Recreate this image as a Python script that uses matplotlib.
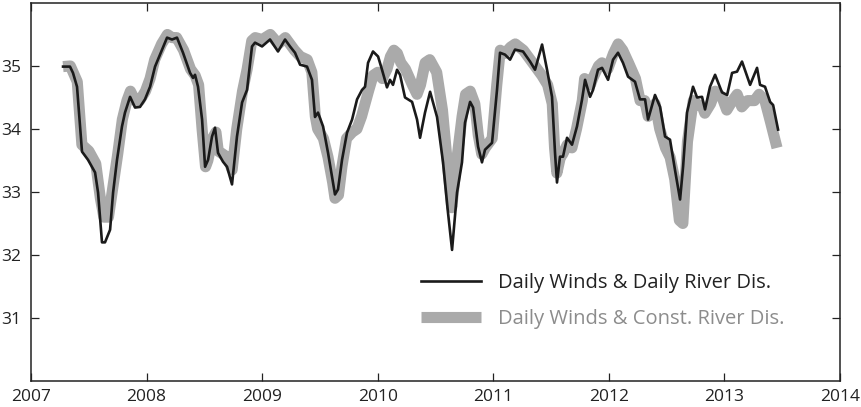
import matplotlib
matplotlib.use("Agg")
import matplotlib.pyplot as plt

plt.rcParams["font.family"] = ["Open Sans", "DejaVu Sans"]

# Daily winds & daily river discharge (black line)
t_daily = [2007.277, 2007.337, 2007.363, 2007.398, 2007.441, 2007.493, 2007.554, 2007.580,
           2007.614, 2007.640, 2007.684, 2007.710, 2007.744, 2007.787, 2007.813, 2007.857,
           2007.900, 2007.943, 2007.986, 2008.030, 2008.073, 2008.134, 2008.177, 2008.220,
           2008.263, 2008.315, 2008.376, 2008.402, 2008.419, 2008.445, 2008.480, 2008.506,
           2008.532, 2008.566, 2008.592, 2008.618, 2008.661, 2008.696, 2008.739, 2008.782,
           2008.826, 2008.869, 2008.912, 2008.938, 2008.999, 2009.068, 2009.137, 2009.198,
           2009.241, 2009.284, 2009.328, 2009.388, 2009.431, 2009.457, 2009.483, 2009.527,
           2009.570, 2009.605, 2009.630, 2009.656, 2009.691, 2009.734, 2009.778, 2009.821,
           2009.864, 2009.890, 2009.916, 2009.959, 2010.003, 2010.037, 2010.080, 2010.106,
           2010.132, 2010.167, 2010.193, 2010.236, 2010.297, 2010.340, 2010.366, 2010.409,
           2010.453, 2010.513, 2010.565, 2010.608, 2010.643, 2010.686, 2010.729, 2010.755,
           2010.799, 2010.825, 2010.868, 2010.902, 2010.928, 2010.989, 2011.032, 2011.058,
           2011.101, 2011.145, 2011.188, 2011.257, 2011.318, 2011.361, 2011.422, 2011.465,
           2011.508, 2011.534, 2011.551, 2011.577, 2011.603, 2011.638, 2011.681, 2011.724,
           2011.768, 2011.794, 2011.837, 2011.863, 2011.906, 2011.941, 2011.993, 2012.036,
           2012.079, 2012.122, 2012.166, 2012.226, 2012.269, 2012.313, 2012.339, 2012.399,
           2012.443, 2012.486, 2012.529, 2012.572, 2012.616, 2012.642, 2012.676, 2012.728,
           2012.763, 2012.806, 2012.832, 2012.875, 2012.919, 2012.979, 2013.023, 2013.066,
           2013.109, 2013.152, 2013.222, 2013.282, 2013.308, 2013.351, 2013.395, 2013.421,
           2013.464]
s_daily = [34.99, 34.99, 34.89, 34.67, 33.64, 33.51, 33.31, 32.99,
           32.20, 32.20, 32.40, 32.99, 33.51, 34.04, 34.26, 34.51,
           34.34, 34.35, 34.47, 34.67, 34.99, 35.26, 35.45, 35.42,
           35.45, 35.21, 34.89, 34.81, 34.86, 34.67, 34.15, 33.40,
           33.51, 33.88, 34.02, 33.62, 33.48, 33.40, 33.12, 33.88,
           34.42, 34.62, 35.31, 35.37, 35.31, 35.42, 35.23, 35.42,
           35.31, 35.21, 35.02, 34.99, 34.78, 34.19, 34.26, 34.04,
           33.62, 33.24, 32.96, 33.04, 33.51, 33.94, 34.15, 34.47,
           34.62, 34.67, 35.05, 35.23, 35.15, 34.94, 34.66, 34.78,
           34.70, 34.94, 34.86, 34.50, 34.43, 34.15, 33.86, 34.26,
           34.59, 34.19, 33.47, 32.67, 32.08, 32.99, 33.47, 34.10,
           34.43, 34.34, 33.72, 33.47, 33.67, 33.78, 34.62, 35.21,
           35.18, 35.10, 35.26, 35.23, 35.07, 34.94, 35.34, 34.94,
           34.51, 33.62, 33.15, 33.56, 33.56, 33.86, 33.75, 34.04,
           34.47, 34.78, 34.51, 34.62, 34.94, 34.97, 34.78, 35.10,
           35.21, 35.05, 34.83, 34.75, 34.47, 34.47, 34.15, 34.54,
           34.35, 33.88, 33.83, 33.35, 32.88, 33.40, 34.26, 34.67,
           34.50, 34.51, 34.31, 34.67, 34.86, 34.58, 34.54, 34.89,
           34.91, 35.07, 34.70, 34.97, 34.70, 34.67, 34.43, 34.38,
           33.99]

# Daily winds & constant river discharge (thick grey line)
t_const = [2007.277, 2007.34, 2007.40, 2007.44, 2007.50, 2007.56, 2007.60, 2007.63,
           2007.67, 2007.71, 2007.75, 2007.79, 2007.83, 2007.86, 2007.90, 2007.94,
           2007.99, 2008.03, 2008.07, 2008.13, 2008.18, 2008.22, 2008.26, 2008.32,
           2008.38, 2008.42, 2008.45, 2008.48, 2008.51, 2008.53, 2008.57, 2008.60,
           2008.62, 2008.66, 2008.70, 2008.74, 2008.78, 2008.83, 2008.87, 2008.91,
           2008.94, 2009.00, 2009.07, 2009.14, 2009.20, 2009.24, 2009.28, 2009.33,
           2009.39, 2009.43, 2009.46, 2009.48, 2009.53, 2009.57, 2009.61, 2009.63,
           2009.66, 2009.69, 2009.73, 2009.78, 2009.82, 2009.86, 2009.89, 2009.92,
           2009.96, 2010.00, 2010.04, 2010.08, 2010.11, 2010.14, 2010.17, 2010.20,
           2010.24, 2010.30, 2010.34, 2010.37, 2010.41, 2010.45, 2010.51, 2010.56,
           2010.60, 2010.64, 2010.69, 2010.73, 2010.76, 2010.80, 2010.84, 2010.87,
           2010.90, 2010.93, 2010.99, 2011.03, 2011.06, 2011.10, 2011.15, 2011.19,
           2011.26, 2011.32, 2011.36, 2011.42, 2011.47, 2011.51, 2011.53, 2011.55,
           2011.58, 2011.60, 2011.64, 2011.68, 2011.72, 2011.77, 2011.79, 2011.84,
           2011.86, 2011.91, 2011.94, 2011.99, 2012.04, 2012.08, 2012.12, 2012.17,
           2012.23, 2012.27, 2012.31, 2012.34, 2012.40, 2012.44, 2012.49, 2012.53,
           2012.57, 2012.61, 2012.64, 2012.68, 2012.73, 2012.76, 2012.81, 2012.83,
           2012.88, 2012.92, 2012.98, 2013.02, 2013.07, 2013.11, 2013.15, 2013.20,
           2013.26, 2013.30, 2013.35, 2013.40, 2013.455]
s_const = [34.99, 35.0, 34.75, 33.75, 33.65, 33.45, 32.9, 32.6,
           32.6, 33.1, 33.6, 34.15, 34.45, 34.6, 34.45, 34.45,
           34.6, 34.8, 35.1, 35.35, 35.5, 35.45, 35.45, 35.25,
           34.95, 34.85, 34.7, 34.0, 33.4, 33.5, 33.85, 33.95,
           33.65, 33.6, 33.55, 33.35, 34.0, 34.6, 34.95, 35.4,
           35.45, 35.42, 35.5, 35.35, 35.45, 35.35, 35.25, 35.15,
           35.1, 34.9, 34.2, 34.0, 33.85, 33.55, 33.15, 32.9,
           32.95, 33.4, 33.85, 33.95, 34.0, 34.2, 34.4, 34.6,
           34.85, 34.9, 34.8, 34.95, 35.15, 35.25, 35.2, 35.05,
           34.95, 34.7, 34.55, 34.7, 35.05, 35.1, 34.9, 34.3,
           33.5, 32.75, 33.6, 34.2, 34.55, 34.6, 34.4, 33.9,
           33.6, 33.7, 33.85, 34.7, 35.25, 35.2, 35.3, 35.35,
           35.25, 35.1, 35.0, 34.85, 34.7, 34.4, 33.7, 33.3,
           33.55, 33.6, 33.75, 33.7, 34.0, 34.45, 34.8, 34.7,
           34.8, 35.0, 35.05, 34.95, 35.2, 35.35, 35.25, 35.05,
           34.8, 34.45, 34.45, 34.2, 34.4, 34.0, 33.7, 33.55,
           33.2, 32.55, 32.5, 33.8, 34.45, 34.4, 34.35, 34.25,
           34.4, 34.6, 34.5, 34.3, 34.45, 34.55, 34.35, 34.45,
           34.45, 34.55, 34.45, 34.1, 33.7]

year_ticks = [2007, 2008, 2009, 2010, 2011, 2012, 2013, 2014]
sal_ticks = [31, 32, 33, 34, 35]

fig = plt.figure(figsize=(8.62, 4.07), dpi=100)
ax = fig.add_axes([0.036, 0.064, 0.9385, 0.9287])

ax.plot(t_const, s_const, color="#aaaaaa", lw=8, solid_capstyle="butt",
        solid_joinstyle="round", label="Daily Winds & Const. River Dis.")
ax.plot(t_daily, s_daily, color="#1a1a1a", lw=1.9, solid_joinstyle="round",
        label="Daily Winds & Daily River Dis.")

ax.set_xlim(2007, 2014)
ax.set_ylim(30, 36)
ax.set_xticks(year_ticks)
ax.set_yticks(sal_ticks)
ax.tick_params(direction="in", length=6, width=0.9, top=True, right=True,
               labelsize=12.5, colors="#222222")
ax.tick_params(axis="y", pad=7)
ax.tick_params(axis="x", pad=6)
for sp in ax.spines.values():
    sp.set_linewidth(1.1)
    sp.set_color("#222222")

handles, labels = ax.get_legend_handles_labels()
leg = ax.legend(handles[::-1], labels[::-1], loc="upper left",
                bbox_to_anchor=(0.482, 0.285), frameon=False, fontsize=14.5,
                handlelength=3.0, handletextpad=0.85, labelspacing=0.8,
                borderpad=0, borderaxespad=0)
leg.get_texts()[0].set_color("#222222")
leg.get_texts()[1].set_color("#8c8c8c")

fig.savefig("out.png", dpi=100)
